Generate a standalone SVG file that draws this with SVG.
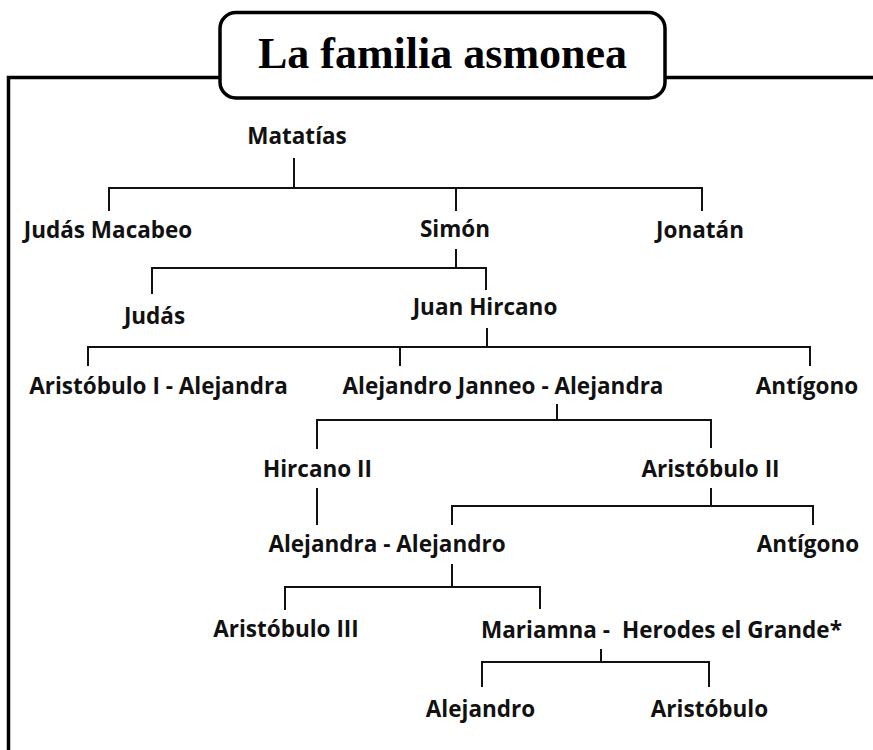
<svg xmlns="http://www.w3.org/2000/svg" width="873" height="750" viewBox="0 0 873 750">
<style>
.n{font-family:"Open Sans","Liberation Sans",sans-serif;font-weight:bold;font-size:22.5px;fill:#111;text-anchor:middle}
.c{stroke:#111;stroke-width:2;fill:none;stroke-linecap:square}
.f{stroke:#000;stroke-width:3.5;fill:none}
.t{font-family:"Liberation Serif","DejaVu Serif",serif;font-weight:bold;font-size:44px;fill:#000;text-anchor:middle}
</style>
<rect width="873" height="750" fill="#fff"/>
<g id="frame">
<path class="f" d="M8.5 750 V77.5 H220 M665 77.5 H873"/>
</g>
<g id="title">
<rect x="220" y="12.5" width="445" height="85.5" rx="16" ry="16" fill="#fff" stroke="#000" stroke-width="3.5"/>
<text class="t" x="442.5" y="68">La familia asmonea</text>
</g>
<g id="connectors">
<path class="c" d="M294 159 V188 M109 210 V188 H702 V210 M456 188 V210"/>
<path class="c" d="M456 250 V268 M152 293 V268 H486 V289"/>
<path class="c" d="M487 329 V347 M88 365 V347 H810 V365 M400 347 V365"/>
<path class="c" d="M557 405 V420 M317 448 V420 H711 V447"/>
<path class="c" d="M317 489 V524"/>
<path class="c" d="M711 489 V506 M452 524 V506 H813 V524"/>
<path class="c" d="M452 565 V587 M285 609 V587 H540 V608"/>
<path class="c" d="M601 650 V662 M482 686 V662 H709 V686"/>
</g>
<g id="matatias"><text class="n" x="297" y="144">Matatías</text></g>
<g id="judas-macabeo"><text class="n" x="108" y="238">Judás Macabeo</text></g>
<g id="simon"><text class="n" x="455" y="237">Simón</text></g>
<g id="jonatan"><text class="n" x="700" y="238">Jonatán</text></g>
<g id="judas"><text class="n" x="154.5" y="324">Judás</text></g>
<g id="juan-hircano"><text class="n" x="485" y="315">Juan Hircano</text></g>
<g id="aristobulo-i"><text class="n" x="158.5" y="394">Aristóbulo I - Alejandra</text></g>
<g id="alejandro-janneo"><text class="n" x="503" y="394">Alejandro Janneo - Alejandra</text></g>
<g id="antigono-1"><text class="n" x="807" y="394">Antígono</text></g>
<g id="hircano-ii"><text class="n" x="317.5" y="477">Hircano II</text></g>
<g id="aristobulo-ii"><text class="n" x="710.5" y="477">Aristóbulo II</text></g>
<g id="alejandra-alejandro"><text class="n" x="387" y="552">Alejandra - Alejandro</text></g>
<g id="antigono-2"><text class="n" x="808" y="552">Antígono</text></g>
<g id="aristobulo-iii"><text class="n" x="286" y="637">Aristóbulo III</text></g>
<g id="mariamna-herodes"><text class="n" y="638" style="text-anchor:start"><tspan x="481">Mariamna - </tspan><tspan x="622">Herodes el Grande*</tspan></text></g>
<g id="alejandro"><text class="n" x="480.5" y="717">Alejandro</text></g>
<g id="aristobulo"><text class="n" x="709.5" y="717">Aristóbulo</text></g>
</svg>
